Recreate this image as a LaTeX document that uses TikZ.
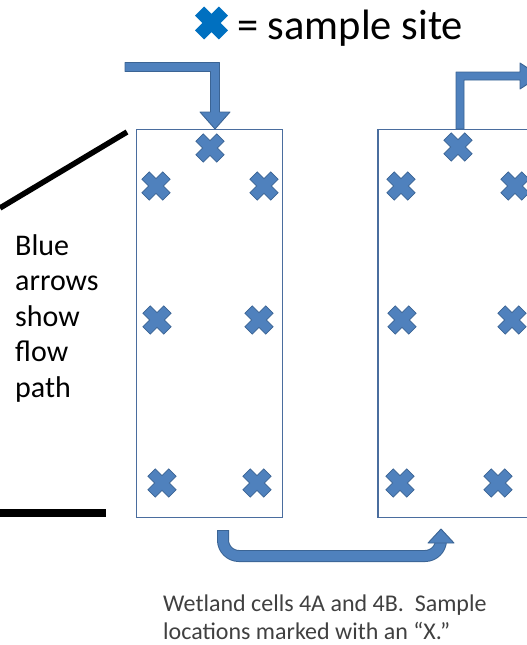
\documentclass[tikz,border=0pt]{standalone}
\usepackage{fontspec}
\setmainfont{Carlito}
\usetikzlibrary{calc}

\definecolor{xfill}{HTML}{4F81BD}
\definecolor{xline}{HTML}{3B6494}
\definecolor{keyblue}{HTML}{0070C0}
\definecolor{cellline}{HTML}{4A6D9E}
\definecolor{captiongray}{HTML}{404040}

\tikzset{
  % sample-site cross: a plus sign turned by 45 degrees
  xm/.pic={
    \path[fill=xfill, draw=xline, line width=0.7pt, rotate=45]
      (14.8,5.2) -- (5.2,5.2) -- (5.2,14.8) -- (-5.2,14.8) -- (-5.2,5.2) -- (-14.8,5.2)
      -- (-14.8,-5.2) -- (-5.2,-5.2) -- (-5.2,-14.8) -- (5.2,-14.8) -- (5.2,-5.2)
      -- (14.8,-5.2) -- cycle;
  },
  keyx/.pic={
    \path[fill=keyblue, rotate=45]
      (16.8,6.5) -- (6.5,6.5) -- (6.5,16.8) -- (-6.5,16.8) -- (-6.5,6.5)
      -- (-16.8,6.5) -- (-16.8,-6.5) -- (-6.5,-6.5) -- (-6.5,-16.8)
      -- (6.5,-16.8) -- (6.5,-6.5) -- (16.8,-6.5) -- cycle;
  },
  cell/.style={draw=cellline, line width=1.3pt, rectangle, inner sep=0pt},
  flowshape/.style={fill=xfill, draw=xline, line width=0.9pt, line join=round},
  pointer/.style={draw=black, line cap=butt},
}

\begin{document}
\begin{tikzpicture}[x=1pt, y=-1pt]
  \useasboundingbox (0,0) rectangle (527,645);

  % the two wetland cells
  \node[cell, minimum width=146pt, minimum height=388pt] (cellA) at (209.5,323.5) {};
  \node[cell, minimum width=167pt, minimum height=388pt] (cellB) at (461.4,323.5) {};

  % key
  \pic at (211.5,23) {keyx};
  \node[anchor=base west, inner sep=0pt, font=\fontsize{42.5}{50}\selectfont] (key) at (237,39) {= sample site};

  % inflow arrow into cell 4A
  \path[flowshape] (125,62.5) -- (219.5,62.5) -- (219.5,112) -- (230,112)
    -- (215,129) -- (200,112) -- (210.5,112) -- (210.5,71.5) -- (125,71.5) -- cycle;

  % outflow arrow from cell 4B
  \path[flowshape] (456,129) -- (456,72) -- (520,72) -- (520,63) -- (540,76)
    -- (520,89) -- (520,80) -- (464,80) -- (464,129) -- cycle;

  % transfer arrow from cell 4A to cell 4B
  \coordinate (tA) at (223,530);
  \coordinate (tB) at (441,543);
  \draw[xline, line width=12pt, rounded corners=16pt] (tA) -- (223,556) -- (441,556) -- (tB);
  \draw[xfill, line width=10pt, rounded corners=16pt] ($(tA)+(0,1)$) -- (223,556) -- (441,556) -- (tB);
  \path[flowshape] (428,543) -- (441,529) -- (454,543) -- cycle;

  % sample sites, cell 4A
  \pic at (210,148) {xm};
  \pic at (156,186) {xm};
  \pic at (264,186) {xm};
  \pic at (157,320) {xm};
  \pic at (259,320) {xm};
  \pic at (162,483) {xm};
  \pic at (257,483) {xm};

  % sample sites, cell 4B
  \pic at (458,147) {xm};
  \pic at (401,186) {xm};
  \pic at (515,186) {xm};
  \pic at (402,320) {xm};
  \pic at (512,320) {xm};
  \pic at (400,483) {xm};
  \pic at (498,483) {xm};

  % black pointer lines
  \coordinate (p1a) at (0,208);
  \coordinate (p1b) at (127,132);
  \coordinate (p2a) at (0,513);
  \coordinate (p2b) at (106,513);
  \draw[pointer, line width=5.5pt] (p1a) -- (p1b);
  \draw[pointer, line width=8pt] (p2a) -- (p2b);

  % side note (anchored on the baseline of its last line)
  \node[anchor=base west, inner sep=0pt, align=left, font=\fontsize{30}{35.5}\selectfont] (note) at (15,397)
    {Blue\\arrows\\show\\flow\\path};

  % caption (anchored on the baseline of its last line)
  \node[anchor=base west, inner sep=0pt, align=left, text=captiongray, font=\fontsize{24}{28}\selectfont] (caption) at (163,639)
    {Wetland cells 4A and 4B.\ \ Sample\\locations marked with an “X.”};
\end{tikzpicture}
\end{document}
